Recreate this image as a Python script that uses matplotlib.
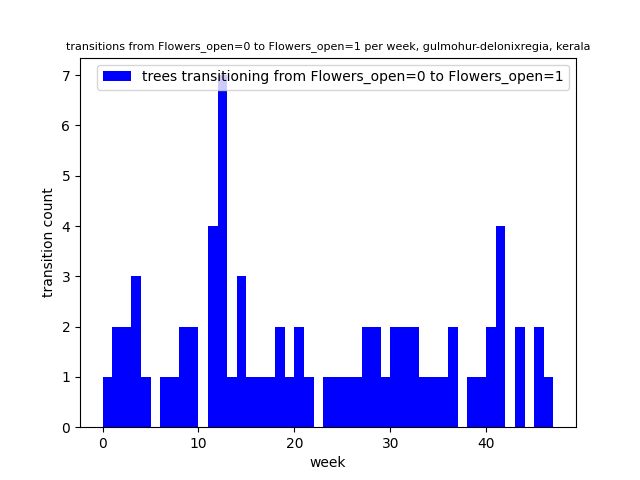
import matplotlib
matplotlib.use("Agg")
import matplotlib.pyplot as plt

weeks = list(range(47))
counts = [1,2,2,3,1,0,1,1,2,2,0,4,7,1,3,1,1,1,2,1,2,1,0,1,1,1,1,2,2,1,2,2,2,1,1,1,2,0,1,1,2,4,0,2,0,2,1]

fig, ax = plt.subplots(figsize=(6.4, 4.8), dpi=100)
ax.bar(weeks, counts, width=1.0, align='edge', color='blue',
       label='trees transitioning from Flowers_open=0 to Flowers_open=1')
ax.set_title('transitions from Flowers_open=0 to Flowers_open=1 per week, gulmohur-delonixregia, kerala', fontsize=8)
ax.set_xlabel('week')
ax.set_ylabel('transition count')
ax.legend(loc='upper right')
fig.savefig('out.png')
